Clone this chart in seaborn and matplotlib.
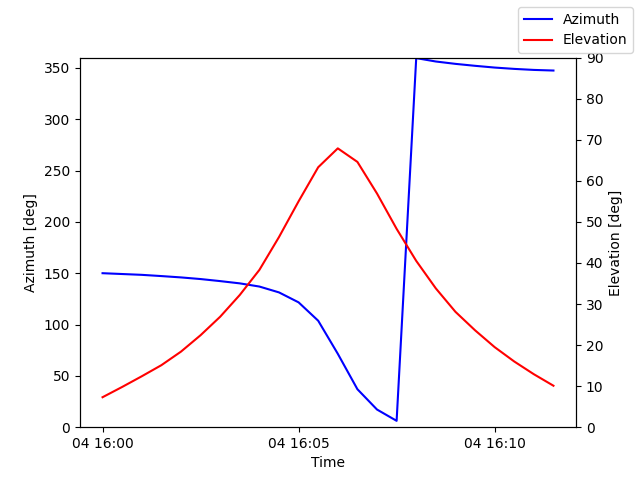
import matplotlib
matplotlib.use("Agg")
import matplotlib.pyplot as plt
import seaborn as sns
import pandas as pd

# pass samples every 30 s
times = pd.date_range("2024-03-04 16:00:00", periods=24, freq="30s")
azimuth = [150.0, 149.2, 148.4, 147.2, 145.9, 144.3, 142.3, 140.1, 137.0, 131.3,
           121.6, 103.7, 71.5, 37.0, 17.2, 6.2, 359.5, 356.2, 353.9, 352.0,
           350.3, 349.0, 348.0, 347.4]
elevation = [7.3, 9.8, 12.4, 15.1, 18.4, 22.4, 26.9, 32.2, 38.3, 46.3,
             55.0, 63.3, 67.9, 64.6, 56.9, 48.3, 40.5, 33.8, 28.1, 23.6,
             19.5, 16.0, 12.9, 10.1]

df = pd.DataFrame({"Time": times, "Azimuth": azimuth, "Elevation": elevation})

fig, ax = plt.subplots(figsize=(6.4, 4.8), dpi=100)
ax2 = ax.twinx()

sns.lineplot(data=df, x="Time", y="Azimuth", ax=ax, color="blue", label="Azimuth")
sns.lineplot(data=df, x="Time", y="Elevation", ax=ax2, color="red", label="Elevation")

ax.get_legend().remove()
ax2.get_legend().remove()

ax.set_ylim(0, 360)
ax2.set_ylim(0, 90)
ax.set_xlabel("Time")
ax.set_ylabel("Azimuth [deg]")
ax2.set_ylabel("Elevation [deg]")

fig.legend(loc="upper right")
fig.savefig("out.png")
